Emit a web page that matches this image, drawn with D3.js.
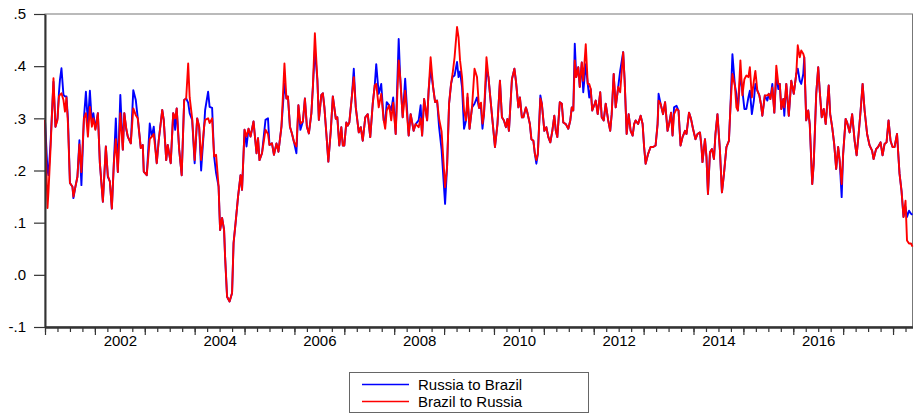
<!DOCTYPE html>
<html>
<head>
<meta charset="utf-8">
<script src="https://cdn.jsdelivr.net/npm/d3@7"></script>
<style>
  html, body { margin: 0; padding: 0; background: #fff; }
  svg { display: block; font-family: "Liberation Sans", Arial, sans-serif; }
</style>
</head>
<body>
<svg id="chart" width="914" height="414"></svg>
<script>
// Observation dates as decimal years
const dates = [
  2001.00,2001.05,2001.07,2001.11,2001.17,2001.21,2001.25,2001.28,2001.30,2001.33,2001.37,2001.40,2001.43,2001.46,2001.50,
  2001.55,2001.57,2001.61,2001.65,2001.69,2001.73,2001.78,2001.82,2001.86,2001.90,2001.94,2001.97,2002.01,2002.06,2002.10,
  2002.16,2002.22,2002.26,2002.30,2002.34,2002.38,2002.42,2002.46,2002.51,2002.56,2002.59,2002.63,2002.66,2002.72,2002.77,
  2002.82,2002.86,2002.92,2002.96,2002.98,2003.04,2003.10,2003.14,2003.18,2003.24,2003.28,2003.35,2003.38,2003.43,2003.46,
  2003.52,2003.57,2003.61,2003.64,2003.69,2003.74,2003.79,2003.83,2003.87,2003.90,2003.95,2004.00,2004.05,2004.09,2004.13,
  2004.19,2004.21,2004.27,2004.30,2004.35,2004.39,2004.43,2004.48,2004.51,2004.55,2004.59,2004.61,2004.65,2004.70,2004.75,
  2004.78,2004.82,2004.87,2004.92,2004.95,2005.00,2005.04,2005.08,2005.12,2005.18,2005.24,2005.27,2005.30,2005.35,2005.42,
  2005.47,2005.50,2005.55,2005.59,2005.64,2005.68,2005.74,2005.80,2005.84,2005.87,2005.91,2005.95,2005.99,2006.04,2006.08,
  2006.12,2006.17,2006.21,2006.25,2006.29,2006.34,2006.37,2006.41,2006.46,2006.49,2006.54,2006.57,2006.60,2006.64,2006.68,
  2006.73,2006.77,2006.83,2006.86,2006.90,2006.94,2006.97,2007.00,2007.04,2007.07,2007.10,2007.15,2007.19,2007.23,2007.29,
  2007.33,2007.37,2007.42,2007.47,2007.52,2007.57,2007.61,2007.64,2007.69,2007.74,2007.79,2007.82,2007.85,2007.90,2007.94,
  2007.98,2008.03,2008.09,2008.12,2008.17,2008.22,2008.29,2008.33,2008.39,2008.43,2008.49,2008.53,2008.56,2008.60,2008.66,
  2008.69,2008.73,2008.78,2008.82,2008.86,2008.90,2008.95,2009.02,2009.06,2009.10,2009.14,2009.17,2009.21,2009.26,2009.29,
  2009.32,2009.36,2009.40,2009.44,2009.47,2009.51,2009.56,2009.61,2009.66,2009.70,2009.74,2009.77,2009.80,2009.85,2009.89,
  2009.92,2009.97,2010.02,2010.07,2010.12,2010.16,2010.20,2010.24,2010.27,2010.30,2010.36,2010.41,2010.44,2010.49,2010.52,
  2010.56,2010.59,2010.64,2010.67,2010.72,2010.75,2010.79,2010.82,2010.85,2010.88,2010.93,2010.96,2011.01,2011.05,2011.09,
  2011.13,2011.17,2011.21,2011.24,2011.27,2011.32,2011.36,2011.39,2011.44,2011.49,2011.53,2011.56,2011.59,2011.62,2011.65,
  2011.69,2011.72,2011.76,2011.79,2011.84,2011.88,2011.91,2011.94,2011.97,2012.02,2012.04,2012.08,2012.13,2012.16,2012.20,
  2012.24,2012.29,2012.33,2012.36,2012.40,2012.44,2012.49,2012.53,2012.59,2012.62,2012.66,2012.70,2012.74,2012.78,2012.81,
  2012.84,2012.89,2012.94,2012.98,2013.01,2013.04,2013.09,2013.14,2013.19,2013.24,2013.28,2013.30,2013.34,2013.39,2013.43,
  2013.48,2013.51,2013.55,2013.58,2013.61,2013.66,2013.70,2013.74,2013.78,2013.83,2013.86,2013.91,2013.95,2013.99,2014.04,
  2014.08,2014.13,2014.16,2014.18,2014.23,2014.26,2014.29,2014.33,2014.37,2014.41,2014.44,2014.48,2014.53,2014.57,2014.61,
  2014.66,2014.71,2014.74,2014.78,2014.83,2014.86,2014.89,2014.94,2014.98,2015.02,2015.06,2015.10,2015.13,2015.17,2015.21,
  2015.24,2015.28,2015.32,2015.35,2015.38,2015.43,2015.48,2015.51,2015.54,2015.58,2015.62,2015.66,2015.70,2015.73,2015.76,
  2015.80,2015.82,2015.86,2015.91,2015.96,2016.01,2016.06,2016.09,2016.13,2016.16,2016.20,2016.22,2016.26,2016.30,2016.33,
  2016.38,2016.41,2016.46,2016.50,2016.53,2016.57,2016.61,2016.65,2016.71,2016.74,2016.78,2016.82,2016.86,2016.90,2016.93,
  2016.97,2017.00,2017.05,2017.08,2017.13,2017.18,2017.23,2017.27,2017.31,2017.35,2017.39,2017.43,2017.48,2017.53,2017.58,
  2017.61,2017.66,2017.70,2017.75,2017.79,2017.83,2017.87,2017.91,2017.95,2017.99,2018.03,2018.08,2018.13,2018.17,2018.21,
  2018.25,2018.28,2018.32,2018.36,2018.39
];

// Russia to Brazil
const russiaToBrazil = [
  .297,.200,.191,.250,.370,.284,.300,.350,.374,.396,.345,.342,.342,.300,.176,
  .169,.147,.169,.188,.258,.172,.300,.351,.290,.353,.290,.310,.280,.310,.214,
  .140,.246,.188,.179,.127,.214,.300,.197,.345,.240,.310,.278,.265,.252,.354,
  .335,.300,.243,.249,.198,.191,.290,.265,.284,.214,.258,.316,.297,.220,.249,
  .214,.310,.278,.319,.240,.191,.335,.338,.330,.310,.297,.214,.300,.284,.200,
  .284,.316,.351,.322,.320,.227,.195,.169,.086,.109,.086,.035,-.042,-.051,-.035,
  .061,.099,.150,.191,.163,.278,.246,.280,.265,.294,.233,.262,.220,.233,.297,
  .300,.249,.252,.230,.252,.236,.284,.367,.338,.342,.284,.271,.255,.233,.325,
  .278,.294,.338,.284,.271,.310,.360,.431,.374,.297,.345,.348,.322,.271,.217,
  .278,.342,.299,.302,.248,.283,.248,.248,.292,.286,.292,.340,.395,.321,.273,
  .283,.257,.302,.308,.264,.328,.363,.404,.347,.366,.296,.290,.331,.325,.315,
  .340,.270,.452,.379,.302,.376,.267,.308,.276,.289,.296,.325,.267,.337,.296,
  .353,.395,.360,.331,.334,.283,.240,.136,.207,.328,.366,.379,.382,.408,.379,
  .390,.360,.280,.296,.340,.280,.321,.328,.340,.320,.320,.280,.308,.391,.379,
  .347,.296,.245,.289,.372,.302,.296,.283,.299,.276,.375,.395,.372,.321,.340,
  .302,.302,.321,.311,.289,.260,.257,.232,.213,.232,.344,.328,.276,.283,.264,
  .254,.276,.305,.276,.264,.331,.328,.292,.289,.280,.296,.321,.315,.443,.379,
  .398,.360,.407,.350,.404,.366,.340,.356,.315,.328,.334,.308,.350,.302,.296,
  .328,.296,.276,.308,.385,.321,.360,.391,.427,.372,.270,.308,.276,.267,.289,
  .296,.289,.305,.289,.245,.213,.232,.245,.245,.248,.289,.347,.328,.308,.331,
  .276,.289,.311,.267,.321,.324,.315,.248,.264,.276,.270,.311,.299,.280,.260,
  .270,.273,.245,.216,.260,.226,.155,.235,.241,.222,.270,.308,.238,.158,.193,
  .245,.257,.321,.423,.363,.347,.315,.385,.353,.318,.318,.340,.353,.308,.334,
  .366,.353,.344,.328,.305,.344,.334,.347,.337,.366,.311,.385,.356,.366,.318,
  .337,.305,.366,.305,.372,.347,.385,.395,.372,.366,.385,.417,.296,.315,.289,
  .174,.213,.347,.398,.353,.302,.318,.289,.363,.308,.283,.251,.203,.245,.219,
  .149,.232,.299,.292,.273,.308,.257,.229,.270,.315,.366,.315,.270,.248,.238,
  .222,.241,.245,.254,.229,.251,.254,.296,.257,.245,.245,.270,.194,.161,.111,
  .130,.111,.123,.117,.115
];

// Brazil to Russia
const brazilToRussia = [
  .297,.128,.160,.240,.377,.284,.297,.342,.345,.348,.335,.313,.340,.290,.176,
  .169,.150,.169,.188,.250,.197,.300,.310,.265,.322,.284,.300,.278,.310,.214,
  .140,.246,.190,.179,.127,.214,.260,.197,.310,.240,.310,.280,.265,.252,.319,
  .306,.300,.243,.249,.198,.191,.260,.265,.270,.214,.258,.316,.297,.220,.249,
  .214,.310,.300,.319,.240,.191,.335,.338,.405,.340,.300,.220,.300,.284,.220,
  .284,.297,.300,.291,.300,.227,.230,.169,.086,.109,.086,.035,-.042,-.051,-.035,
  .061,.099,.150,.191,.163,.278,.265,.280,.265,.294,.233,.262,.220,.233,.278,
  .270,.249,.252,.230,.252,.236,.284,.405,.338,.342,.284,.271,.255,.246,.325,
  .290,.294,.338,.284,.271,.310,.360,.463,.374,.297,.345,.348,.322,.271,.217,
  .278,.342,.299,.302,.248,.283,.248,.248,.292,.286,.292,.340,.379,.321,.273,
  .283,.257,.302,.308,.264,.328,.363,.366,.321,.347,.296,.280,.315,.325,.296,
  .330,.270,.411,.379,.302,.353,.267,.308,.276,.289,.283,.300,.267,.337,.296,
  .353,.417,.360,.331,.334,.299,.275,.168,.207,.328,.366,.385,.417,.475,.455,
  .411,.379,.315,.296,.347,.280,.321,.395,.379,.320,.330,.290,.308,.417,.379,
  .347,.296,.245,.289,.372,.302,.296,.283,.299,.276,.375,.395,.372,.321,.340,
  .302,.302,.321,.311,.289,.260,.257,.232,.220,.232,.338,.328,.276,.283,.264,
  .254,.276,.305,.276,.264,.331,.328,.292,.289,.280,.296,.321,.315,.411,.379,
  .398,.360,.407,.372,.442,.366,.366,.356,.315,.328,.334,.308,.350,.302,.296,
  .328,.296,.276,.308,.385,.321,.360,.350,.427,.372,.270,.308,.276,.267,.289,
  .296,.289,.305,.289,.245,.213,.232,.245,.245,.248,.289,.334,.328,.308,.331,
  .276,.289,.311,.267,.308,.318,.315,.248,.264,.276,.270,.311,.299,.280,.260,
  .270,.273,.245,.216,.260,.226,.155,.235,.241,.222,.270,.308,.238,.158,.193,
  .245,.257,.321,.385,.363,.321,.315,.411,.344,.375,.382,.379,.398,.340,.372,
  .391,.353,.344,.328,.305,.344,.344,.347,.337,.359,.311,.401,.366,.366,.318,
  .337,.321,.366,.305,.372,.347,.385,.440,.417,.430,.424,.417,.296,.315,.289,
  .174,.213,.347,.398,.353,.302,.318,.289,.363,.308,.283,.251,.203,.245,.219,
  .174,.232,.299,.292,.273,.308,.257,.229,.270,.315,.366,.315,.270,.248,.238,
  .222,.241,.245,.254,.229,.251,.254,.296,.257,.245,.245,.270,.194,.161,.111,
  .142,.066,.060,.060,.054
];

const seriesNames = ["Russia to Brazil", "Brazil to Russia"];
const seriesColors = ["#0000ff", "#ff0000"];

const yTicks = [-0.1, 0, 0.1, 0.2, 0.3, 0.4, 0.5];
const yTickLabels = ["-.1", ".0", ".1", ".2", ".3", ".4", ".5"];
const yearLabels = ["2002", "2004", "2006", "2008", "2010", "2012", "2014", "2016"];

const svg = d3.select("#chart");
const plot = { left: 45, right: 912.5, top: 14, bottom: 327 };

const x = d3.scaleLinear().domain([2001, 2018.39]).range([plot.left, plot.right]);
const y = d3.scaleLinear().domain([-0.1, 0.5]).range([plot.bottom, plot.top]);

// plot frame
svg.append("rect")
  .attr("x", plot.left).attr("y", plot.top)
  .attr("width", plot.right - plot.left).attr("height", plot.bottom - plot.top)
  .attr("fill", "none").attr("stroke", "#777").attr("stroke-width", 1);

// series: blue first, red drawn over it
const series = [russiaToBrazil, brazilToRussia];
const line = d3.line().x(d => x(d[0])).y(d => y(d[1]));
series.forEach((vals, i) => {
  svg.append("path")
    .datum(dates.map((t, k) => [t, vals[k]]))
    .attr("fill", "none")
    .attr("stroke", seriesColors[i])
    .attr("stroke-width", 1.9)
    .attr("stroke-linejoin", "round")
    .attr("d", line);
});

// y axis
svg.append("g")
  .attr("transform", `translate(${plot.left},0)`)
  .call(d3.axisLeft(y).tickValues(yTicks)
    .tickFormat((d, i) => yTickLabels[i])
    .tickSize(11).tickSizeOuter(0).tickPadding(8));

// x axis: quarterly minor ticks, yearly major ticks, labels every other year
const quarters = d3.range(2001, 2018.4, 0.25);
const years = d3.range(2001, 2019);
svg.append("g")
  .attr("transform", `translate(0,${plot.bottom})`)
  .call(d3.axisBottom(x).tickValues(quarters).tickFormat("").tickSize(5).tickSizeOuter(0));
svg.append("g")
  .attr("transform", `translate(0,${plot.bottom})`)
  .call(d3.axisBottom(x).tickValues(years).tickFormat("").tickSize(8).tickSizeOuter(0));
svg.append("g")
  .attr("transform", `translate(0,${plot.bottom})`)
  .call(d3.axisBottom(x).tickValues(yearLabels.map(s => +s + 0.5))
    .tickFormat((d, i) => yearLabels[i]).tickSize(0).tickSizeOuter(0).tickPadding(8))
  .call(g => g.select(".domain").remove());

svg.selectAll(".tick text").attr("font-size", 15).attr("font-family", "\"Liberation Sans\", Arial, sans-serif").attr("fill", "#000");
svg.selectAll(".tick line").attr("stroke", "#333").attr("stroke-width", 1.2);
svg.selectAll(".domain").attr("stroke", "#333").attr("stroke-width", 2);

// legend
const legend = svg.append("g");
legend.append("rect")
  .attr("x", 349.5).attr("y", 372.5).attr("width", 239).attr("height", 40)
  .attr("fill", "#fff").attr("stroke", "#666").attr("stroke-width", 1);
seriesNames.forEach((name, i) => {
  const cy = 384.5 + i * 17;
  legend.append("line")
    .attr("x1", 362).attr("x2", 409).attr("y1", cy).attr("y2", cy)
    .attr("stroke", seriesColors[i]).attr("stroke-width", 1.6);
  legend.append("text")
    .attr("x", 418).attr("y", cy + 5.2)
    .attr("font-size", 15).attr("fill", "#000")
    .text(name);
});
</script>
</body>
</html>
